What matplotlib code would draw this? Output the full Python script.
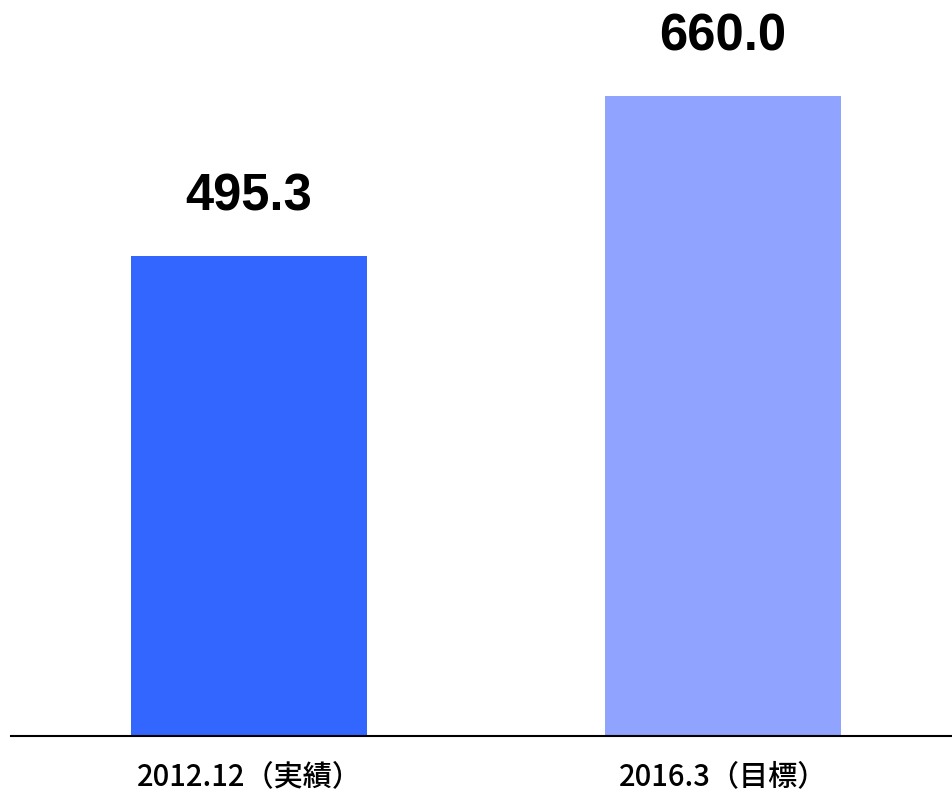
import matplotlib
matplotlib.use("Agg")
import matplotlib.pyplot as plt

categories = ["2012.12（実績）", "2016.3（目標）"]
values = [495.3, 660.0]
value_labels = ["495.3", "660.0"]
colors = ["#3366FF", "#8FA3FF"]

plt.rcParams['font.family'] = ['Noto Sans CJK JP', 'DejaVu Sans']

fig = plt.figure(figsize=(9.52, 7.92), dpi=100)
ax = fig.add_axes([11/952, 56/792, 941/952, 736/792])

x = list(range(len(categories)))
bars = ax.bar(x, values, width=0.498, color=colors, edgecolor='none')

ax.set_xlim(-0.502, 1.483)
ax.set_ylim(0, 736/0.9693)

for xi, v, lab in zip(x, values, value_labels):
    ax.annotate(lab, (xi, v), xytext=(0, 25), textcoords='offset points',
                ha='center', va='bottom', fontsize=36.5, fontweight='bold',
                family=['Liberation Sans', 'DejaVu Sans'])

for s in ['top', 'right', 'left']:
    ax.spines[s].set_visible(False)
ax.spines['bottom'].set_linewidth(1.5)
ax.spines['bottom'].set_color('black')
ax.set_yticks([])
ax.set_xticks(x)
ax.set_xticklabels(categories, fontsize=21, fontweight='medium')
ax.tick_params(axis='x', length=0, pad=18)

fig.savefig("out.png", dpi=100)
